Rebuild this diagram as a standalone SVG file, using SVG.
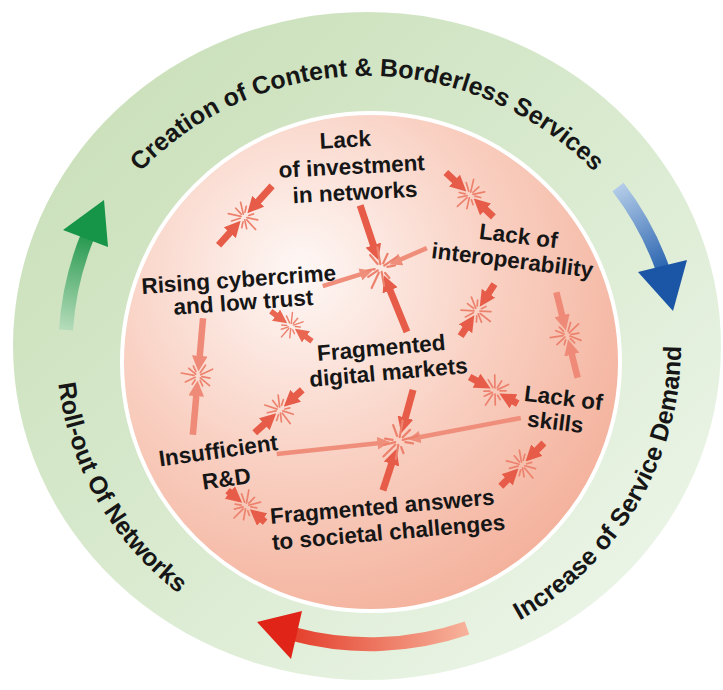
<svg xmlns="http://www.w3.org/2000/svg" width="723" height="690" viewBox="0 0 723 690">
<style>
.lbl{font-family:"Liberation Sans",Arial,sans-serif;font-weight:bold;font-size:22.5px;fill:#161616;text-anchor:middle}
.rt{font-family:"Liberation Sans",Arial,sans-serif;font-weight:bold;font-size:25px;fill:#161616;text-anchor:middle}
.ad{stroke:#e65c48;stroke-width:7;marker-end:url(#hd)}
.am{stroke:#e96651;stroke-width:5.5;marker-end:url(#hm)}
.al{stroke:#ef8e7b;stroke-width:4.5;marker-end:url(#hl)}
.alt{stroke:#ee8a77;stroke-width:6.5;marker-end:url(#hlt)}
.bs{stroke:#ec826e;stroke-width:1.7;stroke-linecap:round;fill:none}
</style>
<defs>
<linearGradient id="ringG" x1="0" y1="0" x2="1" y2="1"><stop offset="0" stop-color="#c6ddb4"/><stop offset="0.5" stop-color="#d9eacf"/><stop offset="1" stop-color="#f1f8ef"/></linearGradient>
<radialGradient id="pinkG" cx="0.36" cy="0.32" r="0.78"><stop offset="0" stop-color="#fef8f6"/><stop offset="0.5" stop-color="#f9d0c2"/><stop offset="1" stop-color="#f3ad96"/></radialGradient>
<linearGradient id="gG" gradientUnits="userSpaceOnUse" x1="66" y1="330" x2="88" y2="236"><stop offset="0" stop-color="#b6dcba"/><stop offset="1" stop-color="#26994f"/></linearGradient>
<linearGradient id="bG" gradientUnits="userSpaceOnUse" x1="618" y1="187" x2="663" y2="270"><stop offset="0" stop-color="#b4cce8"/><stop offset="1" stop-color="#2a64b0"/></linearGradient>
<linearGradient id="rG" gradientUnits="userSpaceOnUse" x1="467" y1="628" x2="294" y2="634"><stop offset="0" stop-color="#f7b29b"/><stop offset="1" stop-color="#e4402c"/></linearGradient>
<marker id="hd" viewBox="0 0 10 10" refX="4" refY="5" markerWidth="2.3" markerHeight="2.3" orient="auto" markerUnits="strokeWidth"><path d="M0,0L10,5L0,10z" fill="#e65c48"/></marker>
<marker id="hm" viewBox="0 0 10 10" refX="4" refY="5" markerWidth="2.5" markerHeight="2.5" orient="auto" markerUnits="strokeWidth"><path d="M0,0L10,5L0,10z" fill="#e96651"/></marker>
<marker id="hl" viewBox="0 0 10 10" refX="4" refY="5" markerWidth="2.8" markerHeight="2.8" orient="auto" markerUnits="strokeWidth"><path d="M0,0L10,5L0,10z" fill="#ef8e7b"/></marker>
<marker id="hlt" viewBox="0 0 10 10" refX="4" refY="5" markerWidth="2.4" markerHeight="2.4" orient="auto" markerUnits="strokeWidth"><path d="M0,0L10,5L0,10z" fill="#ee8a77"/></marker>
<g id="burst" class="bs">
<line x1="1.5" y1="2.6" x2="7" y2="12.1"/>
<line x1="-0.35" y1="4" x2="-1.5" y2="16.9"/>
<line x1="-1.7" y1="2.5" x2="-6.9" y2="9.8"/>
<line x1="-4.3" y1="2.5" x2="-9.5" y2="5.5"/>
<line x1="-3.5" y1="-2" x2="-11.3" y2="-6.5"/>
<line x1="-1.5" y1="-2.6" x2="-8" y2="-13.9"/>
<line x1="0.35" y1="-4" x2="1" y2="-12"/>
<line x1="1.7" y1="-2.5" x2="8.6" y2="-12.3"/>
<line x1="4.3" y1="2.5" x2="8.7" y2="5"/>
<line x1="4.3" y1="-2.5" x2="9.5" y2="-5.5"/>
</g>
<path id="pTop" d="M108.1,210.7 A316,316 0 0 1 625.9,210.7"/>
<path id="pLeft" d="M57.2,318.9 A311,311 0 0 0 235.6,627.9"/>
<path id="pRight" d="M448.3,649.3 A314,314 0 0 0 670.3,264.7"/>
</defs>

<g id="outer-ring">
<ellipse cx="367" cy="346" rx="354" ry="334" fill="url(#ringG)"/>
</g>
<g id="inner-circle">
<circle cx="371" cy="362" r="249" fill="url(#pinkG)" stroke="#ffffff" stroke-width="4"/>
</g>

<g id="cycle-arrows">
<path d="M66,330 A301,301 0 0 1 88,235" fill="none" stroke="url(#gG)" stroke-width="14"/>
<polygon points="63,230 108,247 104,200" fill="#169447"/>
<path d="M618,187 A300,300 0 0 1 663,270" fill="none" stroke="url(#bG)" stroke-width="14"/>
<polygon points="638,272 687,260 673,311" fill="#1b55a5"/>
<path d="M467,628 A298,298 0 0 1 293,634" fill="none" stroke="url(#rG)" stroke-width="14"/>
<polygon points="302,611 291,659 257,622" fill="#e02418"/>
</g>

<g id="ring-top"><text class="rt"><textPath href="#pTop" startOffset="50%">Creation of Content &amp; Borderless Services</textPath></text></g>
<g id="ring-left"><text class="rt"><textPath href="#pLeft" startOffset="189">Roll-out Of Networks</textPath></text></g>
<g id="ring-right"><text class="rt"><textPath href="#pRight" startOffset="244">Increase of Service Demand</textPath></text></g>

<g id="connectors">
<g transform="translate(244,217) rotate(-48)"><line class="ad" x1="42" y1="0" x2="14.7" y2="0"/><line class="ad" x1="-38" y1="0" x2="-14.7" y2="0"/><use href="#burst"/></g>
<g transform="translate(470,195) rotate(43)"><line class="ad" x1="32" y1="0" x2="14.7" y2="0"/><line class="ad" x1="-33" y1="0" x2="-14.7" y2="0"/><use href="#burst"/></g>
<g transform="translate(477,311) rotate(-57)"><line class="ad" x1="32" y1="0" x2="14.7" y2="0"/><line class="ad" x1="-30" y1="0" x2="-14.7" y2="0"/><use href="#burst"/></g>
<g transform="translate(567,335) rotate(76)"><line class="alt" x1="44" y1="0" x2="14" y2="0"/><line class="alt" x1="-44" y1="0" x2="-14" y2="0"/><use href="#burst"/></g>
<g transform="translate(291,326) rotate(36)"><line class="am" x1="26" y1="0" x2="13" y2="0"/><line class="am" x1="-25" y1="0" x2="-13" y2="0"/><use href="#burst" transform="scale(0.85)"/></g>
<g transform="translate(198,376) rotate(95)"><line class="alt" x1="59" y1="0" x2="14" y2="0"/><line class="alt" x1="-58" y1="0" x2="-14" y2="0"/><use href="#burst"/></g>
<g transform="translate(280,410) rotate(-42)"><line class="ad" x1="30" y1="0" x2="14.7" y2="0"/><line class="ad" x1="-34" y1="0" x2="-14.7" y2="0"/><use href="#burst"/></g>
<g transform="translate(495,391) rotate(29)"><line class="ad" x1="26" y1="0" x2="14.7" y2="0"/><line class="ad" x1="-29" y1="0" x2="-14.7" y2="0"/><use href="#burst"/></g>
<g transform="translate(522,465) rotate(-45)"><line class="ad" x1="31" y1="0" x2="14.7" y2="0"/><line class="ad" x1="-30" y1="0" x2="-14.7" y2="0"/><use href="#burst"/></g>
<g transform="translate(246,506) rotate(40)"><line class="ad" x1="25" y1="0" x2="14.7" y2="0"/><line class="ad" x1="-24" y1="0" x2="-14.7" y2="0"/><use href="#burst"/></g>
<g transform="translate(381,268)">
<line class="ad" transform="rotate(-108.4)" x1="66" y1="0" x2="17.7" y2="0"/>
<line class="al" transform="rotate(-23.5)" x1="50" y1="0" x2="16.6" y2="0"/>
<line class="al" transform="rotate(162.8)" x1="61" y1="0" x2="16.6" y2="0"/>
<line class="ad" transform="rotate(67.9)" x1="69" y1="0" x2="17.7" y2="0"/>
<use href="#burst" transform="rotate(20) scale(1.3)"/>
</g>
<g transform="translate(399,441)">
<line class="ad" transform="rotate(-74.6)" x1="53" y1="0" x2="17.7" y2="0"/>
<line class="al" transform="rotate(-10.7)" x1="124" y1="0" x2="16.6" y2="0"/>
<line class="ad" transform="rotate(108)" x1="52" y1="0" x2="17.7" y2="0"/>
<line class="al" transform="rotate(173.9)" x1="123" y1="0" x2="16.6" y2="0"/>
<use href="#burst" transform="rotate(40) scale(1.3)"/>
</g>
</g>

<g id="n-investment" transform="rotate(-3 352 173)">
<text class="lbl" x="347" y="147">Lack</text>
<text class="lbl" x="352" y="174">of investment</text>
<text class="lbl" x="354" y="200">in networks</text>
</g>
<g id="n-cybercrime" transform="rotate(-4 241 298)">
<text class="lbl" x="240" y="287">Rising cybercrime</text>
<text class="lbl" x="243" y="310">and low trust</text>
</g>
<g id="n-interoperability" transform="rotate(7 513 256)">
<text class="lbl" x="516" y="243">Lack of</text>
<text class="lbl" x="513" y="268">interoperability</text>
</g>
<g id="n-markets" transform="rotate(-5 388 368)">
<text class="lbl" x="383" y="355">Fragmented</text>
<text class="lbl" x="388" y="380">digital markets</text>
</g>
<g id="n-skills" transform="rotate(7 558 418)">
<text class="lbl" x="561" y="405">Lack of</text>
<text class="lbl" x="556" y="430">skills</text>
</g>
<g id="n-rd" transform="rotate(-8 222 470)">
<text class="lbl" x="221" y="458">Insufficient</text>
<text class="lbl" x="225" y="487">R&amp;D</text>
</g>
<g id="n-societal" transform="rotate(-5 386 527)">
<text class="lbl" x="384" y="514">Fragmented answers</text>
<text class="lbl" x="388" y="540">to societal challenges</text>
</g>
</svg>
